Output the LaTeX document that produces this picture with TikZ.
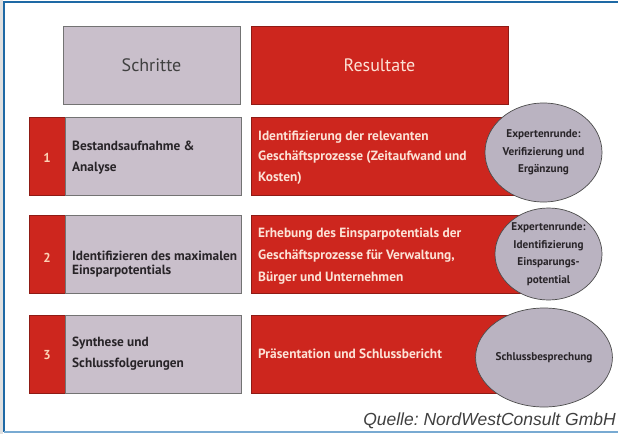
\documentclass[tikz,border=0pt]{standalone}
\usepackage{fontspec}
\setmainfont{PT Sans}
\newfontfamily\qfont{Liberation Sans}
\usetikzlibrary{shapes.geometric}
\definecolor{rbox}{RGB}{205,38,30}
\definecolor{gbox}{RGB}{201,191,203}
\definecolor{ebox}{RGB}{186,179,193}
\definecolor{frameblue}{RGB}{30,105,165}
\definecolor{framelight}{RGB}{120,170,210}
\definecolor{rtext}{RGB}{252,226,214}
\definecolor{dtext}{RGB}{40,36,40}
\frenchspacing
\begin{document}
\begin{tikzpicture}[x=1pt,y=-1pt,
  box/.style={rectangle,inner sep=0pt,minimum height=78pt,line width=0.6pt},
  greybox/.style={box,fill=gbox,draw=black!55},
  redbox/.style={box,fill=rbox,draw=rbox!70!black},
  strip/.style={box,fill=rbox,draw=rbox!70!black,minimum width=36pt},
  rowtxt/.style={anchor=west,align=left,inner sep=0pt,text=dtext,font=\fontsize{13.3}{21}\selectfont\bfseries},
  restxt/.style={anchor=west,align=left,inner sep=0pt,text=rtext,font=\fontsize{13.4}{20.5}\selectfont\bfseries},
  num/.style={inner sep=0pt,text=rtext!85!orange,font=\fontsize{13}{14}\selectfont\bfseries},
  bubble/.style={ellipse,draw=black!70,fill=ebox,line width=0.7pt,inner sep=0pt,align=center,text=dtext,font=\fontsize{11.2}{17.5}\selectfont\bfseries},
  head/.style={box,font=\fontsize{18}{20}\selectfont}
]
\useasboundingbox (0,0) rectangle (618,434);
\fill[white] (0,0) rectangle (618,434);
\fill[black!12] (0,0) rectangle (3.2,434);
% frame
\draw[frameblue,line width=1.6pt] (618,2) -- (4,2) -- (4,432);
\draw[framelight,line width=1.4pt] (4,432) -- (618,432);

% headers
\node[head,greybox,minimum width=177pt,text=black!75] (hs) at (151.5,65) {Schritte};
\node[head,redbox,minimum width=257pt,text=rtext] (hr) at (379.5,65) {Resultate};

% row 1
\node[strip] (s1) at (47,156) {};
\node[num] (n1) at (47,158) {1};
\node[greybox,minimum width=176pt] (g1) at (153,156) {};
\node[rowtxt] (t1) at (72,157.5) {Bestandsaufnahme \&\\Analyse};
\node[redbox,minimum width=274pt] (r1) at (388,156) {};
\node[restxt] (u1) at (258,157.5) {Identifizierung der relevanten\\Geschäftsprozesse (Zeitaufwand und\\Kosten)};
\node[bubble,minimum width=117pt,minimum height=99pt] (e1) at (543.5,152.5) {Expertenrunde:\\Verifizierung und\\Ergänzung};

% row 2
\node[strip] (s2) at (47,254) {};
\node[num] (n2) at (47,258) {2};
\node[greybox,minimum width=176pt] (g2) at (153,254) {};
\node[rowtxt,font=\fontsize{13.3}{13.5}\selectfont\bfseries] (t2) at (72,264) {Identifizieren des maximalen\\Einsparpotentials};
\node[redbox,minimum width=274pt] (r2) at (388,254) {};
\node[restxt,font=\fontsize{13.4}{22}\selectfont\bfseries] (u2) at (258,256) {Erhebung des Einsparpotentials der\\Geschäftsprozesse für Verwaltung,\\Bürger und Unternehmen};
\node[bubble,minimum width=107pt,minimum height=92pt] (e2) at (548.5,254) {Expertenrunde:\\Identifizierung\\Einsparungs-\\potential};

% row 3
\node[strip] (s3) at (47,354) {};
\node[num] (n3) at (47,355) {3};
\node[greybox,minimum width=176pt] (g3) at (153,354) {};
\node[rowtxt] (t3) at (72,354) {Synthese und\\Schlussfolgerungen};
\node[redbox,minimum width=274pt] (r3) at (388,354) {};
\node[restxt] (u3) at (258,354) {Präsentation und Schlussbericht};
\node[bubble,minimum width=116pt,minimum height=99pt] (e3) at (544,357.5) {Schlussbesprechung};

% source
\node[anchor=base east,inner sep=0pt,text=black!75,font=\qfont\itshape\fontsize{17.5}{20}\selectfont] (src) at (616,425) {Quelle: NordWestConsult GmbH};
\end{tikzpicture}
\end{document}
